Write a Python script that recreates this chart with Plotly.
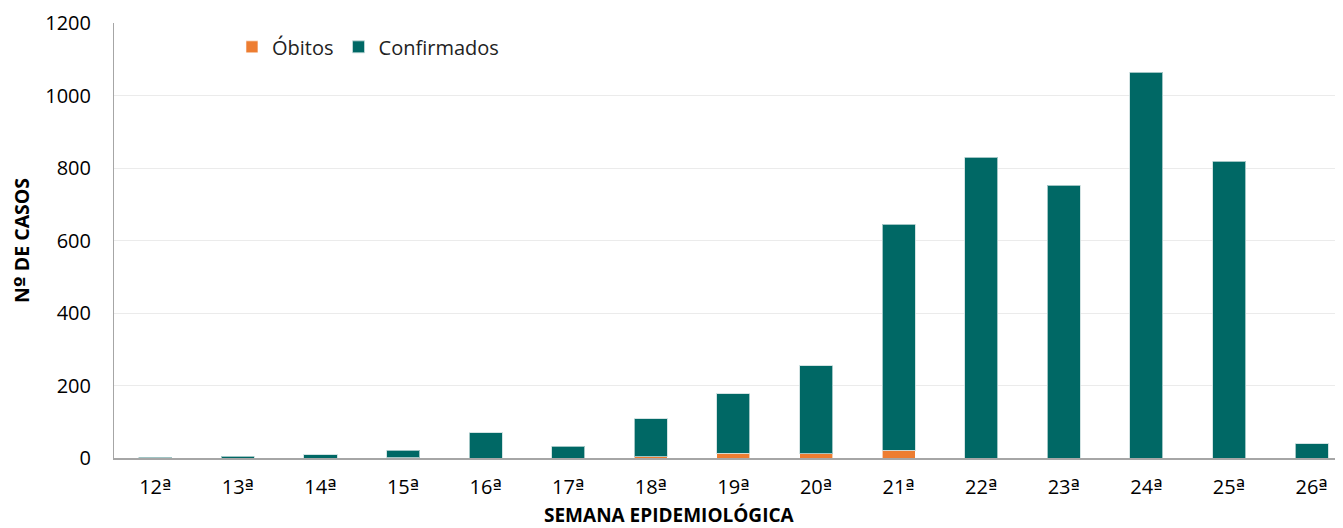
import plotly.graph_objects as go

semanas = ["12ª", "13ª", "14ª", "15ª", "16ª", "17ª", "18ª", "19ª", "20ª", "21ª",
           "22ª", "23ª", "24ª", "25ª", "26ª"]
obitos = [1, 0, 0, 1, 0, 0, 4, 13, 12, 21, 0, 0, 0, 0, 0]
confirmados = [1, 5, 9, 20, 70, 33, 104, 164, 242, 624, 830, 753, 1064, 818, 40]

ORD = "<span style='font-family:\"DejaVu Sans\"'>{}</span>"
tick_text = [s.replace("ª", ORD.format("ª")) for s in semanas]

fig = go.Figure()
fig.add_trace(go.Bar(x=semanas, y=obitos, name="Óbitos",
                     marker=dict(color="#ED7D31", line=dict(color="rgba(255,255,255,0.6)", width=1))))
fig.add_trace(go.Bar(x=semanas, y=confirmados, name="Confirmados",
                     marker=dict(color="#006865", line=dict(color="rgba(200,220,220,0.8)", width=1))))

font_family = "'Open Sans', sans-serif"
fig.update_layout(
    barmode="stack",
    bargap=0.6,
    width=1335, height=520,
    margin=dict(l=106, r=0, t=15, b=70, autoexpand=False),
    plot_bgcolor="white", paper_bgcolor="white",
    font=dict(family=font_family, size=20, color="#000000"),
    legend=dict(orientation="h", x=0.096, y=0.99, xanchor="left", yanchor="top",
                font=dict(size=20, color="#222"), traceorder="normal",
                itemwidth=30, bgcolor="rgba(0,0,0,0)"),
    xaxis=dict(showline=True, linecolor="#A6A6A6", linewidth=2, ticks="",
               tickmode="array", tickvals=semanas, ticktext=tick_text,
               range=[-0.5, 14.38],
               ticklabelstandoff=10,
               tickfont=dict(size=20), automargin=False),
    yaxis=dict(title=dict(text="<b>N" + ORD.format("º") + " DE CASOS</b>", font=dict(size=19.5), standoff=29),
               range=[0, 1200], dtick=200, showgrid=True, gridcolor="#EBEBEB",
               showline=True, linecolor="#A6A6A6", linewidth=1, zeroline=False,
               ticklabelstandoff=18,
               ticks="", tickfont=dict(size=20), automargin=False),
    annotations=[dict(text="<b>SEMANA EPIDEMIOLÓGICA</b>", xref="paper", yref="paper",
                      x=0.452, y=-0.132, xanchor="center", yanchor="middle",
                      showarrow=False, font=dict(size=19, color="#000000"))],
)

fig.write_html("out.html")
